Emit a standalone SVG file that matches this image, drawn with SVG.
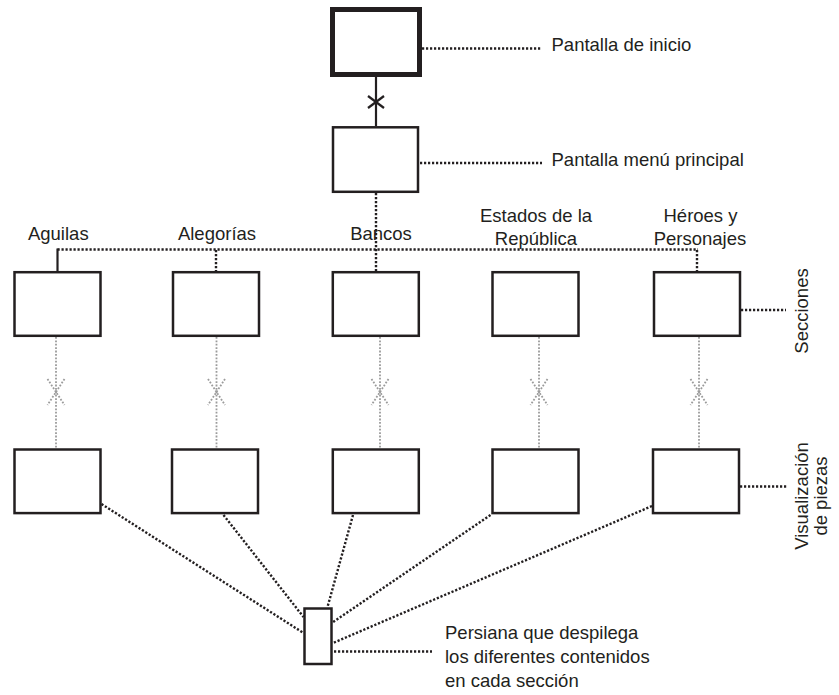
<svg xmlns="http://www.w3.org/2000/svg" width="839" height="695" viewBox="0 0 839 695">
<style>
  .box{fill:#fff;stroke:#231f20;stroke-width:2.5}
  .start{fill:#fff;stroke:#231f20;stroke-width:5}
  .dot{fill:none;stroke:#231f20;stroke-width:2.4;stroke-dasharray:2.2 1.8}
  .solid{fill:none;stroke:#231f20;stroke-width:2.2}
  .gray{fill:none;stroke:#9b9b9b;stroke-width:1.8;stroke-dasharray:1.8 1.6}
  text{font-family:"Liberation Sans",Arial,sans-serif;font-size:18.5px;fill:#231f20}
  .mid{text-anchor:middle}
</style>
<rect width="839" height="695" fill="#fff"/>
<g id="connectors">
  <line class="solid" x1="376" y1="77" x2="376" y2="126"/>
  <line class="solid" x1="368" y1="96" x2="384" y2="108" stroke-width="2.5"/>
  <line class="solid" x1="384" y1="96" x2="368" y2="108" stroke-width="2.5"/>
  <line class="dot" x1="422" y1="48.5" x2="542" y2="48.5"/>
  <line class="dot" x1="420" y1="163" x2="542" y2="163"/>
  <line class="dot" x1="376" y1="193" x2="376" y2="271"/>
  <line class="dot" x1="57.5" y1="249.5" x2="698" y2="249.5"/>
  <line class="solid" x1="57.5" y1="248.5" x2="57.5" y2="271"/>
  <line class="dot" x1="216" y1="250" x2="216" y2="271"/>
  <line class="dot" x1="697" y1="250" x2="697" y2="271"/>
  <line class="dot" x1="741" y1="310" x2="786" y2="310"/>
  <line class="dot" x1="740" y1="486.5" x2="788" y2="486.5"/>
  <g id="gray-links">
    <line class="gray" x1="56" y1="337" x2="56" y2="448"/>
    <line class="gray" x1="47.5" y1="379" x2="64.5" y2="405"/>
    <line class="gray" x1="64.5" y1="379" x2="47.5" y2="405"/>
    <line class="gray" x1="216.5" y1="337" x2="216.5" y2="448"/>
    <line class="gray" x1="208" y1="379" x2="225" y2="405"/>
    <line class="gray" x1="225" y1="379" x2="208" y2="405"/>
    <line class="gray" x1="380" y1="337" x2="380" y2="448"/>
    <line class="gray" x1="371.5" y1="379" x2="388.5" y2="405"/>
    <line class="gray" x1="388.5" y1="379" x2="371.5" y2="405"/>
    <line class="gray" x1="539" y1="337" x2="539" y2="448"/>
    <line class="gray" x1="530.5" y1="379" x2="547.5" y2="405"/>
    <line class="gray" x1="547.5" y1="379" x2="530.5" y2="405"/>
    <line class="gray" x1="699" y1="337" x2="699" y2="448"/>
    <line class="gray" x1="690.5" y1="379" x2="707.5" y2="405"/>
    <line class="gray" x1="707.5" y1="379" x2="690.5" y2="405"/>
  </g>
  <line class="dot" x1="101.5" y1="504" x2="303.5" y2="633"/>
  <line class="dot" x1="223.5" y1="515" x2="303.5" y2="617"/>
  <line class="dot" x1="353" y1="515" x2="327.5" y2="607"/>
  <line class="dot" x1="490.5" y1="515" x2="333" y2="622"/>
  <line class="dot" x1="652" y1="506" x2="333" y2="643"/>
  <line class="dot" x1="334" y1="651.5" x2="432" y2="651.5"/>
</g>
<g id="node-inicio"><rect class="start" x="332.5" y="9.5" width="87" height="65"/></g>
<g id="node-menu"><rect class="box" x="333" y="127.3" width="85" height="64.5"/></g>
<g id="node-sec-aguilas"><rect class="box" x="14.5" y="272.2" width="86" height="63.6"/></g>
<g id="node-sec-alegorias"><rect class="box" x="173" y="272.2" width="86" height="63.6"/></g>
<g id="node-sec-bancos"><rect class="box" x="332.8" y="272.2" width="86" height="63.6"/></g>
<g id="node-sec-estados"><rect class="box" x="492.5" y="272.2" width="86" height="63.6"/></g>
<g id="node-sec-heroes"><rect class="box" x="654" y="272.2" width="86" height="63.6"/></g>
<g id="node-vis-aguilas"><rect class="box" x="14.5" y="449.5" width="86" height="63.6"/></g>
<g id="node-vis-alegorias"><rect class="box" x="172" y="449.5" width="86" height="63.6"/></g>
<g id="node-vis-bancos"><rect class="box" x="332.8" y="449.5" width="86" height="63.6"/></g>
<g id="node-vis-estados"><rect class="box" x="492.5" y="449.5" width="86" height="63.6"/></g>
<g id="node-vis-heroes"><rect class="box" x="653" y="449.5" width="86" height="63.6"/></g>
<g id="node-persiana"><rect class="box" x="304.5" y="608.5" width="27" height="55.5"/></g>
<g id="labels">
  <text x="551.5" y="51">Pantalla de inicio</text>
  <text x="551.5" y="166">Pantalla menú principal</text>
  <text class="mid" x="58.3" y="240">Aguilas</text>
  <text class="mid" x="217" y="240">Alegorías</text>
  <text class="mid" x="381" y="240">Bancos</text>
  <text class="mid" x="536" y="221.5">Estados de la</text>
  <text class="mid" x="536" y="244.5">República</text>
  <text class="mid" x="700.5" y="221.5">Héroes y</text>
  <text class="mid" x="700" y="244.5">Personajes</text>
  <text class="mid" transform="translate(807.5,311) rotate(-90)">Secciones</text>
  <text class="mid" transform="translate(807.5,496) rotate(-90)">Visualización</text>
  <text class="mid" transform="translate(827,496) rotate(-90)">de piezas</text>
  <text x="445" y="639">Persiana que despilega</text>
  <text x="445" y="663">los diferentes contenidos</text>
  <text x="445" y="687">en cada sección</text>
</g>
</svg>
